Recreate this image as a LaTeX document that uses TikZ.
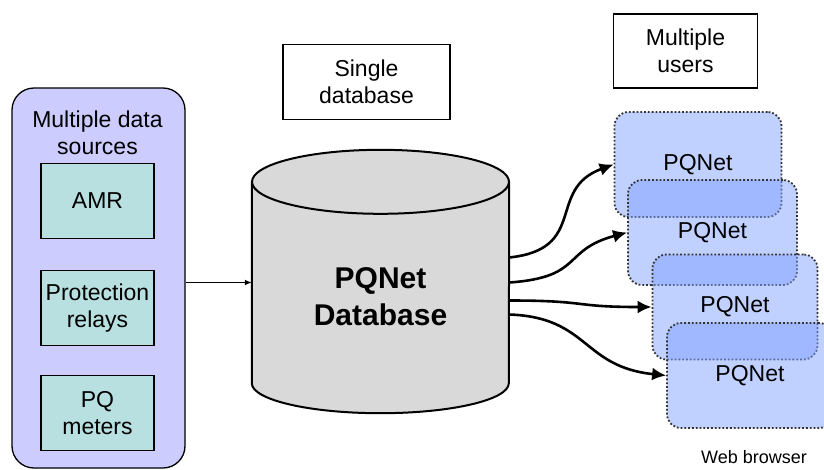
\documentclass[tikz,border=0pt]{standalone}
\usepackage{fontspec}
\setmainfont{Liberation Sans}
\usepackage{tikz}
\usetikzlibrary{arrows.meta,positioning}

\definecolor{srcfill}{RGB}{204,204,255}
\definecolor{itemfill}{RGB}{184,224,224}
\definecolor{dbgray}{RGB}{217,217,217}
\definecolor{userfill}{RGB}{129,161,255}

\begin{document}
\begin{tikzpicture}[x=1pt,y=1pt,
    txt/.style={font=\fontsize{23}{27}\selectfont,align=center},
    srcbox/.style={draw,line width=1.3pt,fill=srcfill,rounded corners=22pt,minimum width=173pt,minimum height=380pt},
    itembox/.style={draw,line width=1.3pt,fill=itemfill,txt,minimum width=113pt,minimum height=75pt,inner sep=1pt},
    notebox/.style={draw,line width=1.3pt,fill=white,txt},
    userbox/.style={draw=black!80,dotted,line width=1.8pt,rounded corners=14pt,fill=userfill,fill opacity=0.5,
      text opacity=1,txt,minimum height=105pt},
    link/.style={line width=2.6pt,-{Latex[length=14pt,width=13pt]}}]
  \useasboundingbox (0,0) rectangle (824,-469);
  % data sources
  \node[srcbox] (src) at (98.5,-278) {};
  \node[txt] (srctitle) at (97.5,-133) {Multiple data\\sources};
  \node[itembox] (amr) at (97.5,-201) {AMR};
  \node[itembox] (relays) at (97.5,-308) {Protection\\relays};
  \node[itembox] (meters) at (97.5,-413) {PQ\\meters};
  % database
  \node[fill=dbgray,minimum width=257pt,minimum height=201pt,inner sep=0pt] (db) at (380.5,-282.5) {};
  \fill[dbgray] (db.south west) arc[start angle=180,end angle=360,x radius=128.5,y radius=30];
  \draw[line width=2pt] (db.north west) -- (db.south west)
    arc[start angle=180,end angle=360,x radius=128.5,y radius=30] -- (db.north east);
  \draw[line width=2pt,fill=dbgray] (db.north) ellipse[x radius=128.5,y radius=32];
  \node[txt,font=\fontsize{30}{37}\selectfont\bfseries] (dbname) at (380.5,-297) {PQNet\\Database};
  \draw[line width=1.8pt,-{Latex[length=7pt,width=6pt]}] (src.east |- db.west) -- (db.west);
  % notes
  \node[notebox,minimum width=167pt,minimum height=75pt] (single) at (366.5,-82) {Single\\database};
  \node[notebox,minimum width=144pt,minimum height=74pt] (users) at (685.5,-51) {Multiple\\users};
  % users
  \node[userbox,minimum width=167pt] (u1) at (698,-164.5) {PQNet};
  \node[userbox,minimum width=169pt] (u2) at (712.5,-232.5) {PQNet};
  \node[userbox,minimum width=165pt] (u3) at (735,-307) {PQNet};
  \node[userbox,minimum width=166pt] (u4) at (750,-375.5) {PQNet};
  \node[font=\fontsize{18}{22}\selectfont] (browser) at (754,-457) {Web browser};
  \draw[link] ([yshift=25pt]db.east) .. controls +(6:80) and +(200:72) .. (u1.west);
  \draw[link] ([yshift=0pt]db.east) .. controls +(4:75) and +(195:68) .. (u2.west);
  \draw[link] ([yshift=-18pt]db.east) .. controls +(0:80) and +(180:80) .. (u3.west);
  \draw[link] ([yshift=-32pt]db.east) .. controls +(-2:80) and +(174:85) .. (u4.west);
\end{tikzpicture}
\end{document}
